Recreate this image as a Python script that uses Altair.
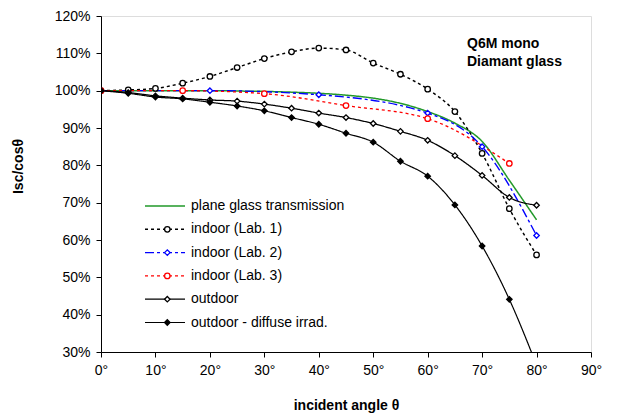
import altair as alt
import pandas as pd

# ---------------- data ----------------
series = ["plane glass transmission", "indoor (Lab. 1)", "indoor (Lab. 2)",
          "indoor (Lab. 3)", "outdoor", "outdoor - diffuse irrad."]
codes = ["a", "b", "c", "d", "e", "f"]

angles5 = [0, 5, 10, 15, 20, 25, 30, 35, 40, 45, 50, 55, 60, 65, 70, 75, 80]
plane = [100, 100, 100, 100, 100, 99.9, 99.8, 99.6, 99.3, 98.8, 98.0, 96.6, 94.4, 91.3, 86.4, 76.0, 65.4]
lab1 = [100, 100.2, 100.6, 102.0, 103.8, 106.2, 108.6, 110.4, 111.4, 110.9, 107.4, 104.4, 100.4, 94.4, 83.2, 68.4, 56.0]
outdoor = [100, 99.5, 98.6, 98.0, 97.5, 97.2, 96.4, 95.3, 94.0, 92.8, 91.2, 89.1, 86.7, 82.6, 77.3, 71.4, 69.3]
diffuse = [100, 99.3, 98.3, 97.8, 96.9, 95.9, 94.6, 92.8, 91.0, 88.6, 86.2, 81.1, 77.1, 69.4, 58.4, 44.1, 26.5]
lab2_angles = [0, 20, 40, 60, 70, 80]
lab2 = [100, 100, 98.9, 94.0, 85.0, 61.2]
lab3_angles = [0, 15, 30, 45, 60, 75]
lab3 = [100, 100, 99.2, 96.0, 92.5, 80.5]

x_ticks = [0, 10, 20, 30, 40, 50, 60, 70, 80, 90]
y_ticks = [30, 40, 50, 60, 70, 80, 90, 100, 110, 120]

rows = []
for name, code, xs, ys, mk in [
    (series[0], codes[0], angles5, plane, False),
    (series[1], codes[1], angles5, lab1, True),
    (series[2], codes[2], lab2_angles, lab2, True),
    (series[3], codes[3], lab3_angles, lab3, True),
    (series[4], codes[4], angles5, outdoor, True),
    (series[5], codes[5], angles5, diffuse, True),
]:
    for a, v in zip(xs, ys):
        rows.append({"angle": a, "value": v, "series": name, "mk": code, "marker": mk})
df = pd.DataFrame(rows)
df_pts = df[df["marker"]]

# ---------------- styles ----------------
FONT = "Liberation Sans"
line_colors = ["#22992a", "#000000", "#0000ff", "#ff0000", "#000000", "#000000"]
line_dashes = [[1, 0], [3, 3], [9, 3, 3, 3], [3, 3], [1, 0], [1, 0]]
line_widths = [1.5, 1.2, 2.5, 2.5, 1.2, 1.2]
pt_shapes = ["circle", "circle", "diamond", "circle", "diamond", "diamond"]
pt_strokes = ["transparent", "#000000", "#0000ff", "#ff0000", "#000000", "#000000"]
pt_fills = ["transparent", "#ffffff", "#ffffff", "#ffffff", "#ffffff", "#000000"]

common_axis = dict(grid=False, tickSize=5, domainColor="#000", tickColor="#000",
                   labelFontSize=14, labelFont=FONT, labelColor="#000", labelOverlap=False,
                   labelFlush=False, titleFont=FONT, titleFontSize=14, titleFontWeight="bold",
                   titleColor="#000")

x_enc = alt.X("angle:Q", scale=alt.Scale(domain=[0, 90], nice=False),
              axis=alt.Axis(values=x_ticks, labelExpr="datum.value + '°'", labelPadding=6,
                            title="incident angle θ", titleY=53, titleBaseline="middle",
                            **common_axis))
y_enc = alt.Y("value:Q", scale=alt.Scale(domain=[30, 120], nice=False, zero=False),
              axis=alt.Axis(values=y_ticks, tickCount=10, labelExpr="datum.value + '%'",
                            labelPadding=6,
                            title="Isc/cosθ", titleX=-83, titleY=150, titleAngle=270,
                            titleAlign="center", titleBaseline="middle", **common_axis))

LEG_X = 57
LEG_Y = 183
line_legend = alt.Legend(orient="none", legendX=LEG_X, legendY=LEG_Y, title=None,
                         symbolType="M-4,0H4", symbolSize=100, labelOffset=19,
                         labelFontSize=14, labelFont=FONT, labelColor="#000",
                         rowPadding=9.3, padding=0, symbolOffset=0)
shape_legend = alt.Legend(orient="none", legendX=LEG_X, legendY=LEG_Y, title=None,
                          symbolSize=30, symbolStrokeWidth=1.3, labelOffset=19,
                          labelFontSize=14, labelFont=FONT, labelExpr="' '",
                          rowPadding=9.3, padding=0, symbolOffset=2.3)

lines = alt.Chart(df).mark_line(interpolate="monotone", clip=True).encode(
    x=x_enc, y=y_enc,
    color=alt.Color("series:N", scale=alt.Scale(domain=series, range=line_colors), legend=line_legend),
    strokeDash=alt.StrokeDash("series:N", scale=alt.Scale(domain=series, range=line_dashes), legend=line_legend),
    strokeWidth=alt.StrokeWidth("series:N", scale=alt.Scale(domain=series, range=line_widths), legend=line_legend),
)

points = alt.Chart(df_pts).mark_point(size=30, strokeWidth=1.3, opacity=1, clip=True).encode(
    x=x_enc, y=y_enc,
    shape=alt.Shape("mk:N", scale=alt.Scale(domain=codes, range=pt_shapes), legend=shape_legend),
    stroke=alt.Stroke("mk:N", scale=alt.Scale(domain=codes, range=pt_strokes), legend=shape_legend),
    fill=alt.Fill("mk:N", scale=alt.Scale(domain=codes, range=pt_fills), legend=shape_legend),
)

note_df = pd.DataFrame({"k": [0]})
note1 = alt.Chart(note_df).mark_text(text="Q6M mono", align="left", baseline="middle",
                                     font=FONT, fontSize=14, fontWeight="bold", color="#000").encode(
    x=alt.value(366), y=alt.value(28))
note2 = alt.Chart(note_df).mark_text(text="Diamant glass", align="left", baseline="middle",
                                     font=FONT, fontSize=14, fontWeight="bold", color="#000").encode(
    x=alt.value(366), y=alt.value(46))

chart = alt.layer(lines, points, note1, note2).properties(
    width=490, height=336,
    autosize=alt.AutoSizeParams(type="none"),
    padding={"left": 93, "top": 8, "right": 16, "bottom": 62},
).configure_view(stroke="#999999", strokeWidth=1.2).configure_axis(
    labelOverlap=False
).configure(background="white")

chart.save("out.html", embed_options={"renderer": "svg", "actions": False})
